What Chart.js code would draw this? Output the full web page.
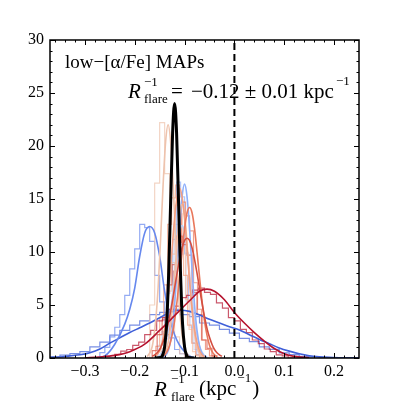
<!DOCTYPE html>
<html>
<head>
<meta charset="utf-8">
<script src="https://cdn.jsdelivr.net/npm/chart.js@4.4.1/dist/chart.umd.min.js"></script>
<style>
  html, body { margin: 0; padding: 0; background: #fff; }
  canvas { display: block; }
</style>
</head>
<body>
<canvas id="flareChart" width="399" height="402"></canvas>
<script>
// Axis ticks
const xTicks = [-0.3, -0.2, -0.1, 0.0, 0.1, 0.2];
const xTickLabels = ['\u22120.3', '\u22120.2', '\u22120.1', '0.0', '0.1', '0.2'];
const yTicks = [0, 5, 10, 15, 20, 25, 30];

// Wide dark blue distribution
const wideBlueX = [-0.37,-0.35,-0.33,-0.31,-0.29,-0.27,-0.25,-0.23,-0.21,-0.19,-0.17,-0.15,-0.13,-0.11,-0.09,-0.07,-0.05,-0.03,-0.01,0.01,0.03,0.05,0.07,0.09,0.11,0.13,0.15,0.17,0.19,0.21,0.25];
const wideBlueY = [0.05,0.1,0.2,0.3,0.5,0.85,1.4,1.9,2.4,2.85,3.3,3.8,4.3,4.5,4.4,4.05,3.65,3.3,2.95,2.65,2.2,1.75,1.35,0.95,0.65,0.4,0.22,0.12,0.06,0.03,0];
const wideBlueHist = [0.08,0.12,0.28,0.42,0.6,1.05,1.5,2.15,2.6,3.1,3.5,4.1,4.3,4.6,4.1,3.9,3.3,3.1,2.7,2.35,1.85,1.55,1.05,0.82,0.48,0.32,0.15,0.1,0.04,0.02];

// Cornflower blue distribution at -0.18
const cornX = [-0.28,-0.26,-0.24,-0.22,-0.21,-0.2,-0.19,-0.18,-0.17,-0.16,-0.15,-0.14,-0.13,-0.12,-0.11,-0.1,-0.09,-0.08];
const cornY = [0,0.2,1.3,3.2,4.6,6.6,9.6,11.8,12.4,11.8,9.6,6.3,3.8,2.2,1.2,0.6,0.2,0];
const cornHist = [0.1,0.5,1.0,2.0,2.9,4.1,5.9,8.4,10.3,12.6,12.3,11.0,7.8,5.3,2.8,1.9,0.8,0.4,0.1];

// Dark red distribution at -0.05
const darkRedX = [-0.30,-0.27,-0.24,-0.21,-0.18,-0.15,-0.12,-0.09,-0.07,-0.055,-0.04,-0.02,0.0,0.02,0.04,0.06,0.08,0.1,0.12,0.15];
const darkRedY = [0.02,0.1,0.25,0.6,1.3,2.6,4.0,5.4,6.3,6.5,6.3,5.5,4.3,3.3,2.4,1.6,0.9,0.4,0.15,0.03];
const darkRedHist = [0.3,0.35,0.65,0.8,1.2,1.5,2.2,2.6,3.5,3.8,4.6,4.9,5.7,5.9,6.4,6.6,6.2,6.0,5.2,4.7,3.8,3.5,2.7,2.4,1.7,1.35,0.85,0.6,0.3,0.2];

// Combined constraint (black)
const combinedX = [-0.16,-0.148,-0.144,-0.14,-0.136,-0.132,-0.128,-0.124,-0.12,-0.116,-0.112,-0.108,-0.104,-0.1,-0.096,-0.092,-0.08];
const combinedY = [0,0.05,0.27,1.05,3.2,7.8,14.6,21.2,24,21.2,14.6,7.8,3.2,1.05,0.27,0.05,0];

// Narrow MAPs near -0.1
const peachX = [-0.175,-0.165,-0.158,-0.153,-0.148,-0.143,-0.138,-0.133,-0.128,-0.123,-0.118,-0.113,-0.108,-0.101,-0.091];
const peachY = [0.12,1.06,3.5,6.7,11.3,16.4,20.4,22.0,20.4,16.4,11.3,6.7,3.5,1.06,0.12];
const peachHist = [1.3,5.0,16.5,22.2,17.4,9.0,2.0,0.4];

const skyX = [-0.145,-0.14,-0.135,-0.13,-0.125,-0.12,-0.115,-0.11,-0.105,-0.1,-0.095,-0.09,-0.085,-0.08,-0.075,-0.07,-0.065,-0.06,-0.055];
const skyY = [0.04,0.15,0.45,1.15,2.6,5.0,8.4,12.2,15.2,16.4,15.2,12.2,8.4,5.0,2.6,1.15,0.45,0.15,0.04];
const skyHist = [0.4,1.8,4.6,11.2,16.6,15.2,9.9,5.4,1.4,0.3];

const paleBlueX = [-0.155,-0.15,-0.145,-0.14,-0.135,-0.13,-0.125,-0.12,-0.115,-0.11,-0.105,-0.1,-0.095,-0.09,-0.085,-0.08,-0.075,-0.07,-0.065,-0.06,-0.055];
const paleBlueY = [0.1,0.24,0.55,1.14,2.15,3.7,5.7,8.05,10.3,11.9,12.5,11.9,10.3,8.05,5.7,3.7,2.15,1.14,0.55,0.24,0.1];
const paleBlueHist = [0.3,1.2,2.5,6.1,9.0,12.6,11.7,9.8,5.3,2.9,0.8,0.3];

const salmonX = [-0.16,-0.155,-0.15,-0.145,-0.14,-0.135,-0.13,-0.125,-0.12,-0.115,-0.11,-0.105,-0.1,-0.095,-0.09,-0.085,-0.08,-0.075,-0.07,-0.065,-0.06];
const salmonY = [0.12,0.3,0.7,1.46,2.75,4.7,7.3,10.3,13.2,15.2,16,15.2,13.2,10.3,7.3,4.7,2.75,1.46,0.7,0.3,0.12];
const salmonHist = [0.5,1.1,3.8,6.9,12.6,15.1,16.3,11.4,7.8,3.1,1.4,0.3];

const orangeX = [-0.145,-0.14,-0.135,-0.13,-0.125,-0.12,-0.115,-0.11,-0.105,-0.1,-0.095,-0.09,-0.085,-0.08,-0.075,-0.07,-0.065,-0.06,-0.055,-0.05,-0.045,-0.04,-0.035];
const orangeY = [0.13,0.3,0.62,1.2,2.15,3.5,5.4,7.65,10.0,12.2,13.7,14.2,13.7,12.2,10.0,7.65,5.4,3.5,2.15,1.2,0.62,0.3,0.13];
const orangeHist = [0.3,0.6,2.2,3.9,8.2,10.9,14.7,13.4,12.0,7.1,4.6,1.7,0.8,0.2];

const redX = [-0.165,-0.16,-0.155,-0.15,-0.145,-0.14,-0.135,-0.13,-0.125,-0.12,-0.115,-0.11,-0.105,-0.1,-0.095,-0.09,-0.085,-0.08,-0.075,-0.07,-0.065,-0.06,-0.055,-0.05,-0.045,-0.04,-0.035,-0.03,-0.025];
const redY = [0.16,0.3,0.5,0.8,1.3,1.95,2.8,3.9,5.2,6.6,8.0,9.3,10.4,11.1,11.3,11.1,10.4,9.3,8.0,6.6,5.2,3.9,2.8,1.95,1.3,0.8,0.5,0.3,0.16];
const redHist = [0.4,0.7,2.2,3.6,6.9,8.8,11.5,10.7,9.7,6.2,4.1,1.7,0.9,0.2];

const roseX = [-0.15,-0.145,-0.14,-0.135,-0.13,-0.125,-0.12,-0.115,-0.11,-0.105,-0.1,-0.095,-0.09,-0.085,-0.08,-0.075,-0.07,-0.065,-0.06];
const roseY = [0.04,0.13,0.4,1.0,2.3,4.45,7.45,10.8,13.5,14.5,13.5,10.8,7.45,4.45,2.3,1.0,0.4,0.13,0.04];
const roseHist = [0.2,0.9,2.2,6.3,9.8,14.4,13.6,11.0,5.5,2.7,0.6,0.2];

// one entry per MAP: curve, histogram (start edge, bin width), colour
const maps = [
  { x: wideBlueX, y: wideBlueY, hist: wideBlueHist, start: -0.37, width: 0.02, color: '#3f5fd8' },
  { x: cornX, y: cornY, hist: cornHist, start: -0.27, width: 0.01, color: '#6688ee' },
  { x: paleBlueX, y: paleBlueY, hist: paleBlueHist, start: -0.153, width: 0.008, color: '#bcd0f6' },
  { x: skyX, y: skyY, hist: skyHist, start: -0.14, width: 0.008, color: '#8fb0fb' },
  { x: peachX, y: peachY, hist: peachHist, start: -0.17, width: 0.01, color: '#eec3ad' },
  { x: roseX, y: roseY, hist: roseHist, start: -0.147, width: 0.007, color: '#f5bda2' },
  { x: salmonX, y: salmonY, hist: salmonHist, start: -0.158, width: 0.008, color: '#f3a082' },
  { x: orangeX, y: orangeY, hist: orangeHist, start: -0.146, width: 0.008, color: '#e9785c' },
  { x: redX, y: redY, hist: redHist, start: -0.165, width: 0.01, color: '#d44e41' },
  { x: darkRedX, y: darkRedY, hist: darkRedHist, start: -0.24, width: 0.012, color: '#b5122d' }
];

const toPoints = (xs, ys) => xs.map((v, i) => ({ x: v, y: ys[i] }));

// step outline like matplotlib histtype='step'
const histPoints = (start, width, heights) => {
  const pts = [{ x: start, y: 0 }];
  heights.forEach((h, i) => pts.push({ x: start + i * width, y: h }));
  pts.push({ x: start + heights.length * width, y: 0 });
  return pts;
};

const fade = (hex, a) => {
  const n = parseInt(hex.slice(1), 16);
  return `rgba(${n >> 16},${(n >> 8) & 255},${n & 255},${a})`;
};

// datasets listed bottom to top, reversed later (Chart.js paints index 0 last)
const layers = [];
maps.forEach(m => layers.push({
  data: histPoints(m.start, m.width, m.hist),
  borderColor: fade(m.color, 0.7), borderWidth: 1.2, stepped: 'after'
}));
maps.forEach(m => layers.push({
  data: toPoints(m.x, m.y),
  borderColor: m.color, borderWidth: 1.6, cubicInterpolationMode: 'monotone'
}));
layers.push({
  data: toPoints(combinedX, combinedY),
  borderColor: '#000', borderWidth: 3, cubicInterpolationMode: 'monotone'
});
layers.push({
  data: [{ x: 0, y: 0 }, { x: 0, y: 30 }],
  borderColor: '#000', borderWidth: 2, borderDash: [7, 4]
});
const datasets = layers.reverse().map(d => Object.assign({ pointRadius: 0, fill: false }, d));

const serif = '"Liberation Serif", "Times New Roman", serif';

function drawText(ctx, str, x, y, size, italic) {
  ctx.font = (italic ? 'italic ' : '') + size + 'px ' + serif;
  ctx.fillText(str, x, y);
  return x + ctx.measureText(str).width;
}

const frame = {
  id: 'frame',
  afterDraw(chart) {
    const { ctx, chartArea: a, scales: { x, y } } = chart;
    ctx.save();
    ctx.strokeStyle = '#000';
    ctx.lineWidth = 1;
    ctx.beginPath();
    // inward ticks on all four sides
    for (let k = -18; k <= 12; k++) {
      const px = Math.round(x.getPixelForValue(k * 0.02)) + 0.5;
      const len = k % 5 === 0 ? 5 : 2.5;
      ctx.moveTo(px, a.bottom); ctx.lineTo(px, a.bottom - len);
      ctx.moveTo(px, a.top); ctx.lineTo(px, a.top + len);
    }
    for (let k = 0; k <= 30; k++) {
      const py = Math.round(y.getPixelForValue(k)) + 0.5;
      const len = k % 5 === 0 ? 5 : 2.5;
      ctx.moveTo(a.left, py); ctx.lineTo(a.left + len, py);
      ctx.moveTo(a.right, py); ctx.lineTo(a.right - len, py);
    }
    ctx.stroke();
    ctx.lineWidth = 1.5;
    ctx.strokeRect(a.left, a.top, a.right - a.left, a.bottom - a.top);

    ctx.fillStyle = '#000';
    ctx.textBaseline = 'alphabetic';
    ctx.textAlign = 'left';
    drawText(ctx, 'low\u2212[\u03b1/Fe] MAPs', 65, 68, 19);

    drawText(ctx, 'R', 128, 98, 21, true);
    drawText(ctx, '\u22121', 144, 86, 13);
    drawText(ctx, 'flare', 144, 103, 13);
    drawText(ctx, '=', 171, 98, 21);
    const e = drawText(ctx, '\u22120.12 \u00b1 0.01 kpc', 191, 98, 21);
    drawText(ctx, '\u22121', e + 2, 85, 13);

    drawText(ctx, 'R', 154, 396, 21, true);
    drawText(ctx, '\u22121', 171, 383, 13);
    drawText(ctx, 'flare', 171, 401, 13);
    let e2 = drawText(ctx, '(kpc', 199, 395, 21);
    e2 = drawText(ctx, '\u22121', e2 + 1, 382, 13);
    drawText(ctx, ')', e2 + 1, 395, 21);
    ctx.restore();
  }
};

const tickFont = { family: serif, size: 16 };

new Chart(document.getElementById('flareChart').getContext('2d'), {
  type: 'line',
  data: { datasets },
  options: {
    responsive: false,
    animation: false,
    devicePixelRatio: 1,
    layout: { padding: { top: 40, right: 40, left: 0, bottom: 0 } },
    plugins: { legend: { display: false }, tooltip: { enabled: false } },
    scales: {
      x: {
        type: 'linear', min: -0.37, max: 0.25,
        grid: { display: false, drawTicks: false },
        border: { display: false },
        afterBuildTicks: s => { s.ticks = xTicks.map(v => ({ value: v })); },
        afterFit: s => { s.height = 44; },
        ticks: {
          color: '#000', font: tickFont, padding: 4, maxRotation: 0, autoSkip: false,
          callback: (v, i) => xTickLabels[i]
        }
      },
      y: {
        type: 'linear', min: 0, max: 30,
        grid: { display: false, drawTicks: false },
        border: { display: false },
        afterBuildTicks: s => { s.ticks = yTicks.map(v => ({ value: v })); },
        afterFit: s => { s.width = 50; },
        ticks: { color: '#000', font: tickFont, padding: 6, callback: v => String(v) }
      }
    }
  },
  plugins: [frame]
});
</script>
</body>
</html>
